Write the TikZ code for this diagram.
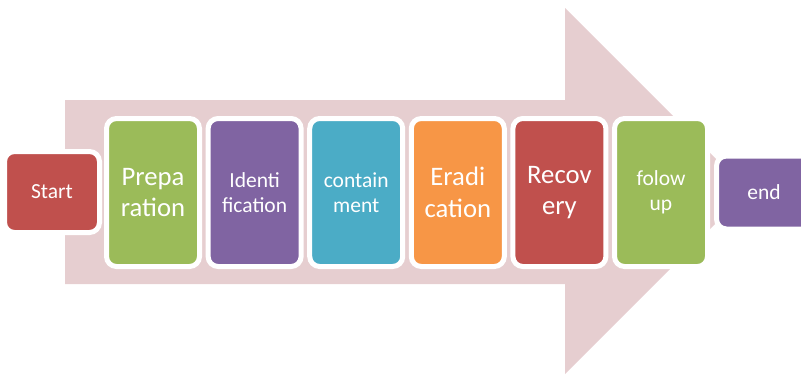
\documentclass[tikz,border=0pt]{standalone}
\usepackage{fontspec}
\setmainfont{Carlito}
\usepackage{xcolor}
\usetikzlibrary{positioning}
\definecolor{stepred}{HTML}{C0504D}
\definecolor{stepgreen}{HTML}{9BBB59}
\definecolor{steppurple}{HTML}{8064A2}
\definecolor{stepcyan}{HTML}{4BACC6}
\definecolor{steporange}{HTML}{F79646}
\definecolor{arrowpink}{HTML}{E6CED0}
\tikzset{
  phase/.style={rectangle, rounded corners=10pt, draw=white, line width=5pt,
                outer sep=0pt, inner sep=0pt, minimum width=93pt,
                minimum height=148pt, text=white, align=center},
  bigtext/.style={font=\fontsize{26.7}{31.5}\selectfont},
  smalltext/.style={font=\fontsize{21.5}{24.5}\selectfont},
  terminal/.style={phase, minimum width=95pt, minimum height=81pt, smalltext},
}

\begin{document}
\begin{tikzpicture}[x=1pt, y=-1pt]
\useasboundingbox (0,0) rectangle (801,375);

% background arrow
\fill[arrowpink] (65,100) -- (565,100) -- (565,8) -- (748,191)
      -- (565,374) -- (565,284) -- (65,284) -- cycle;

% phases
\node[phase, bigtext, fill=stepgreen] (prep) at (153,192.5) {Prepa\\ration};
\node[phase, smalltext, fill=steppurple, right=8.6pt of prep] (ident)
      {Identi\\fication};
\node[phase, smalltext, fill=stepcyan, right=8.6pt of ident] (contain)
      {contain\\ment};
\node[phase, bigtext, fill=steporange, right=8.6pt of contain] (erad)
      {Eradi\\cation};
\node[phase, bigtext, fill=stepred, right=8.6pt of erad] (recov)
      {Recov\\ery};
\node[phase, smalltext, fill=stepgreen, right=8.6pt of recov] (follow)
      {folow\\up};

% start and end
\node[terminal, fill=stepred, left=7pt of prep, yshift=0.5pt] (start) {Start};
\node[terminal, fill=steppurple, minimum height=73pt, right=9pt of follow]
      (stop) {end};

\end{tikzpicture}
\end{document}
